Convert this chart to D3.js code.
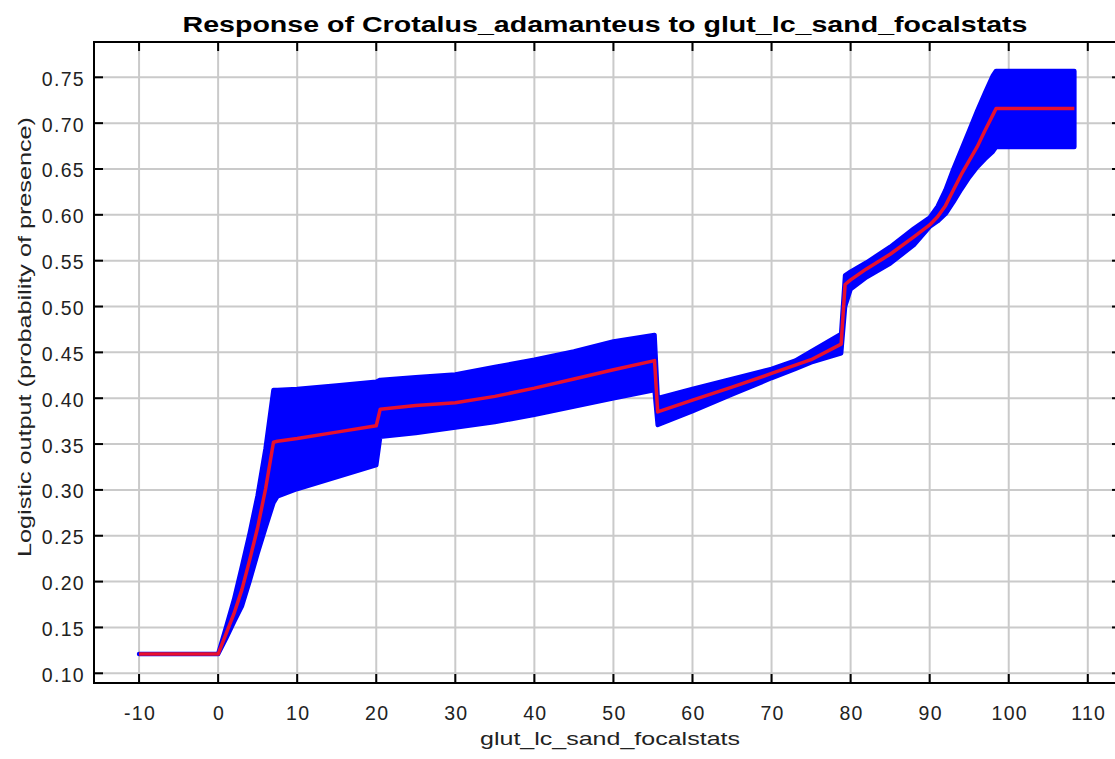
<!DOCTYPE html>
<html>
<head>
<meta charset="utf-8">
<script src="https://cdn.jsdelivr.net/npm/d3@7"></script>
<style>
    body { margin: 0; background: #fff; }
    svg { display: block; }
    .tick-label { font-family: "Liberation Sans", Arial, sans-serif; font-size: 19.5px; fill: #222; letter-spacing: 1.3px; }
    .axis-title { font-family: "Liberation Sans", Arial, sans-serif; font-size: 19px; fill: #222; }
    .chart-title { font-family: "Liberation Sans", Arial, sans-serif; font-size: 22px; font-weight: bold; fill: #000; }
</style>
</head>
<body>
<script>
//data
var xValues = [-10, 0, 1, 2, 3, 4, 5, 6, 7, 7.5, 10, 15, 20, 20.5, 25, 30, 35, 40, 45, 50,
    55.2, 55.6, 60, 65, 70, 73, 75, 78.8, 79.3, 80, 82, 85, 88, 90, 91, 92, 93, 94, 95, 96,
    97, 98, 98.4, 100, 105, 108.3];
var meanValues = [0.121, 0.121, 0.143, 0.165, 0.191, 0.224, 0.259, 0.301, 0.352, 0.353,
    0.356, 0.363, 0.370, 0.388, 0.392, 0.395, 0.402, 0.411, 0.421, 0.431,
    0.441, 0.385, 0.398, 0.412, 0.427, 0.436, 0.442, 0.459, 0.524, 0.529,
    0.541, 0.557, 0.576, 0.589, 0.598, 0.610, 0.627, 0.644, 0.659, 0.674,
    0.692, 0.709, 0.716, 0.716, 0.716, 0.716];
var upperValues = [0.121, 0.121, 0.150, 0.180, 0.216, 0.253, 0.294, 0.345, 0.409, 0.409,
    0.410, 0.414, 0.418, 0.420, 0.423, 0.426, 0.434, 0.442, 0.451, 0.462,
    0.469, 0.400, 0.410, 0.421, 0.432, 0.441, 0.451, 0.470, 0.534, 0.538,
    0.548, 0.565, 0.585, 0.597, 0.609, 0.627, 0.650, 0.671, 0.692, 0.713,
    0.733, 0.752, 0.757, 0.757, 0.757, 0.757];
var lowerValues = [0.121, 0.121, 0.138, 0.156, 0.173, 0.201, 0.231, 0.259, 0.286, 0.293,
    0.301, 0.314, 0.327, 0.358, 0.362, 0.368, 0.374, 0.382, 0.391, 0.400,
    0.409, 0.371, 0.386, 0.404, 0.422, 0.432, 0.439, 0.449, 0.500, 0.519,
    0.532, 0.547, 0.567, 0.587, 0.593, 0.601, 0.614, 0.628, 0.641, 0.652,
    0.661, 0.669, 0.674, 0.674, 0.674, 0.674];
var xTicks = [-10, 0, 10, 20, 30, 40, 50, 60, 70, 80, 90, 100, 110];
var yTicks = [0.10, 0.15, 0.20, 0.25, 0.30, 0.35, 0.40, 0.45, 0.50, 0.55, 0.60, 0.65, 0.70, 0.75];
var titleText = 'Response of Crotalus_adamanteus to glut_lc_sand_focalstats';
var xLabelText = 'glut_lc_sand_focalstats';
var yLabelText = 'Logistic output (probability of presence)';
//end data

var width = 1115, height = 759;
var plot = { left: 94, right: 1121, top: 42, bottom: 683 };
var tickLen = 9;

var points = xValues.map(function (x, i) {
    return { x: x, mean: meanValues[i], upper: upperValues[i], lower: lowerValues[i] };
});

var svg = d3.select('body').append('svg')
    .attr('width', width)
    .attr('height', height);
svg.append('rect').attr('width', width).attr('height', height).attr('fill', '#fff');

//scales
var xScale = d3.scaleLinear()
    .domain([-15.7, 114.2])
    .range([plot.left, plot.right]);
var yScale = d3.scaleLinear()
    .domain([0.0894, 0.7885])
    .range([plot.bottom, plot.top]);

//grid lines
var gGrid = svg.append('g').attr('class', 'grid');
gGrid.selectAll('line.v')
    .data(xTicks)
    .enter().append('line')
    .attr('class', 'v')
    .attr('x1', function (d) { return xScale(d); })
    .attr('x2', function (d) { return xScale(d); })
    .attr('y1', plot.top)
    .attr('y2', plot.bottom)
    .attr('stroke', '#cacaca')
    .attr('stroke-width', 2);
gGrid.selectAll('line.h')
    .data(yTicks)
    .enter().append('line')
    .attr('class', 'h')
    .attr('x1', plot.left)
    .attr('x2', plot.right)
    .attr('y1', function (d) { return yScale(d); })
    .attr('y2', function (d) { return yScale(d); })
    .attr('stroke', '#cacaca')
    .attr('stroke-width', 2);

//blue band (lower / upper)
var areaFunc = d3.area()
    .x(function (d) { return xScale(d.x); })
    .y0(function (d) { return yScale(d.lower); })
    .y1(function (d) { return yScale(d.upper); });
svg.append('path')
    .datum(points)
    .attr('class', 'band')
    .attr('d', areaFunc)
    .attr('fill', '#0000ff')
    .attr('stroke', '#0000ff')
    .attr('stroke-width', 4.5)
    .attr('stroke-linejoin', 'round');

//red mean line
var lineFunc = d3.line()
    .x(function (d) { return xScale(d.x); })
    .y(function (d) { return yScale(d.mean); });
svg.append('path')
    .datum(points)
    .attr('class', 'mean')
    .attr('d', lineFunc)
    .attr('fill', 'none')
    .attr('stroke', '#e8102e')
    .attr('stroke-width', 3.5)
    .attr('stroke-linejoin', 'round');

//frame with inward ticks
var gFrame = svg.append('g').attr('class', 'frame');
gFrame.append('rect')
    .attr('x', plot.left)
    .attr('y', plot.top)
    .attr('width', plot.right - plot.left)
    .attr('height', plot.bottom - plot.top)
    .attr('fill', 'none')
    .attr('stroke', '#000')
    .attr('stroke-width', 2);
xTicks.forEach(function (t) {
    gFrame.append('line')
        .attr('x1', xScale(t)).attr('x2', xScale(t))
        .attr('y1', plot.bottom).attr('y2', plot.bottom - tickLen)
        .attr('stroke', '#000').attr('stroke-width', 2);
    gFrame.append('line')
        .attr('x1', xScale(t)).attr('x2', xScale(t))
        .attr('y1', plot.top).attr('y2', plot.top + tickLen)
        .attr('stroke', '#000').attr('stroke-width', 2);
});
yTicks.forEach(function (t) {
    gFrame.append('line')
        .attr('x1', plot.left).attr('x2', plot.left + tickLen)
        .attr('y1', yScale(t)).attr('y2', yScale(t))
        .attr('stroke', '#000').attr('stroke-width', 2);
    gFrame.append('line')
        .attr('x1', plot.right).attr('x2', plot.right - tickLen)
        .attr('y1', yScale(t)).attr('y2', yScale(t))
        .attr('stroke', '#000').attr('stroke-width', 2);
});

//tick labels
var fmtY = d3.format('.2f');
svg.append('g').selectAll('text')
    .data(yTicks)
    .enter().append('text')
    .attr('class', 'tick-label')
    .attr('x', 85)
    .attr('y', function (d) { return yScale(d) + 8.5; })
    .attr('text-anchor', 'end')
    .text(function (d) { return fmtY(d); });
svg.append('g').selectAll('text')
    .data(xTicks)
    .enter().append('text')
    .attr('class', 'tick-label')
    .attr('x', function (d) { return xScale(d) + 1; })
    .attr('y', 720)
    .attr('text-anchor', 'middle')
    .text(function (d) { return d; });

//titles
svg.append('text')
    .attr('class', 'chart-title')
    .attr('x', 605)
    .attr('y', 32)
    .attr('text-anchor', 'middle')
    .attr('textLength', 845)
    .attr('lengthAdjust', 'spacingAndGlyphs')
    .text(titleText);
svg.append('text')
    .attr('class', 'axis-title')
    .attr('x', 610)
    .attr('y', 745)
    .attr('text-anchor', 'middle')
    .attr('textLength', 260)
    .attr('lengthAdjust', 'spacingAndGlyphs')
    .text(xLabelText);
svg.append('text')
    .attr('class', 'axis-title')
    .attr('transform', 'translate(31,337) rotate(-90)')
    .attr('text-anchor', 'middle')
    .attr('textLength', 440)
    .attr('lengthAdjust', 'spacingAndGlyphs')
    .text(yLabelText);
</script>
</body>
</html>
